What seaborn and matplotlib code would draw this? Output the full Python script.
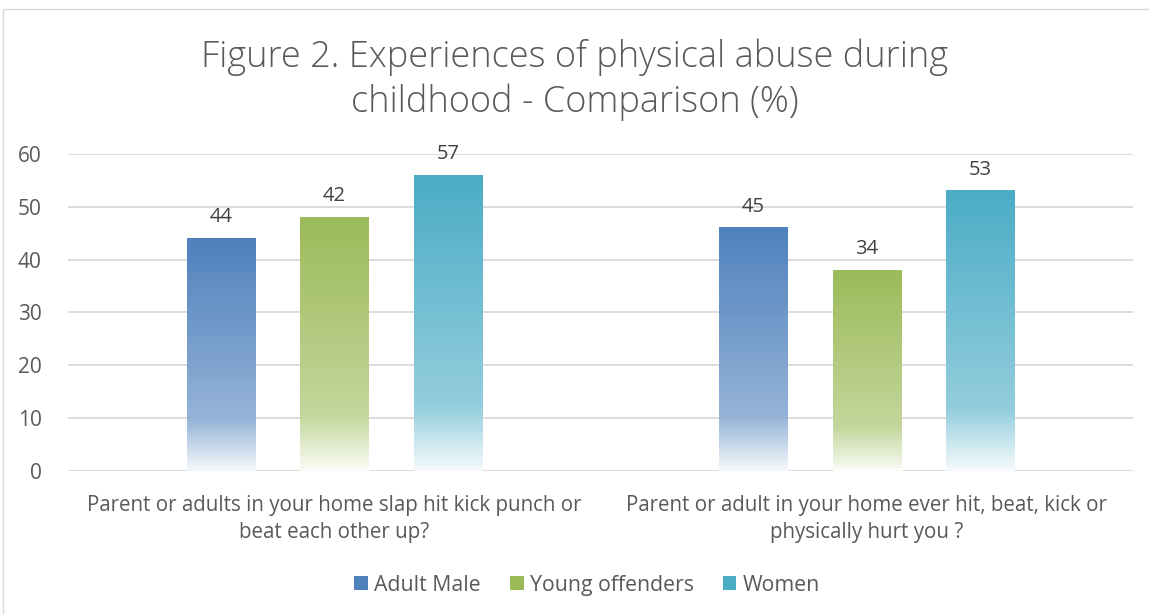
import numpy as np
import pandas as pd
import matplotlib.pyplot as plt
import seaborn as sns
from matplotlib.colors import to_rgb
from matplotlib.patches import Rectangle, Patch

# Data
questions = ["Parent or adults in your home slap hit kick punch or\nbeat each other up?",
             "Parent or adult in your home ever hit, beat, kick or\nphysically hurt you ?"]
groups = ["Adult Male", "Young offenders", "Women"]
adult_male = [44, 46]
young_offenders = [48, 38]
women = [56, 53]
# printed data labels (the source prints these, not the bar heights)
labels_adult_male = ["44", "45"]
labels_young_offenders = ["42", "34"]
labels_women = ["57", "53"]
colors = ["#4F81BD", "#9BBB59", "#4BACC6"]

df = pd.DataFrame({
    "question": questions * 3,
    "group": [g for g in groups for _ in questions],
    "value": adult_male + young_offenders + women,
})
bar_labels = [labels_adult_male, labels_young_offenders, labels_women]

sns.set_theme(style="white")
plt.rcParams["font.family"] = ["Open Sans", "DejaVu Sans"]
text_color = "#595959"

fig = plt.figure(figsize=(11.49, 6.14), dpi=100)
ax = fig.add_axes([0.0592, 0.2329, 0.9268, 0.5163])

sns.barplot(data=df, x="question", y="value", hue="group", palette=colors,
            width=0.64, gap=0.4, legend=False, ax=ax)


def gradient(color, n=256):
    c = np.array(to_rgb(color))
    t = np.linspace(0, 1, n)
    f = np.interp(t, [0, 0.22, 1], [0.05, 0.6, 1.0])
    rgb = 1 - f[:, None] * (1 - c[None, :])
    return rgb[:, None, :]


for i, cont in enumerate(ax.containers):
    for p in cont.patches:
        x0, w, h = p.get_x(), p.get_width(), p.get_height()
        ax.imshow(gradient(colors[i]), extent=[x0, x0 + w, 0, h], origin="lower",
                  aspect="auto", zorder=2, interpolation="bilinear")
        p.set_facecolor("none")
        p.set_edgecolor("none")
    ax.bar_label(cont, labels=bar_labels[i], padding=8, fontsize=14.5, color="#404040")

ax.set_xlim(-0.5, 1.5)
ax.set_ylim(0, 60)
ax.set_yticks(range(0, 61, 10))
ax.grid(axis="y", color="#d9d9d9", linewidth=1.3)
ax.set_axisbelow(True)
sns.despine(ax=ax, left=True, bottom=True)
ax.set_xlabel("")
ax.set_ylabel("")
ax.tick_params(axis="y", labelsize=15, labelcolor=text_color, length=0, pad=19)
ax.tick_params(axis="x", labelsize=14.8, labelcolor=text_color, length=0, pad=17)
for lab in ax.get_xticklabels():
    lab.set_linespacing(1.38)

fig.text(0.5, 0.87, "Figure 2. Experiences of physical abuse during\nchildhood - Comparison (%)",
         ha="center", va="center", fontsize=26, fontweight="light", color=text_color,
         linespacing=1.25)

handles = [Patch(facecolor=c, edgecolor="none") for c in colors]
fig.legend(handles, groups, loc="center", bbox_to_anchor=(0.511, 0.047), ncol=3,
           frameon=False, fontsize=15.3, handlelength=0.65, handleheight=0.65,
           handletextpad=0.3, columnspacing=1.35, labelcolor=text_color)

fig.add_artist(Rectangle((0.0026, -0.01), 1.0, 0.995, transform=fig.transFigure,
                         fill=False, edgecolor="#d9d9d9", linewidth=1))

fig.savefig("out.png", dpi=100)
